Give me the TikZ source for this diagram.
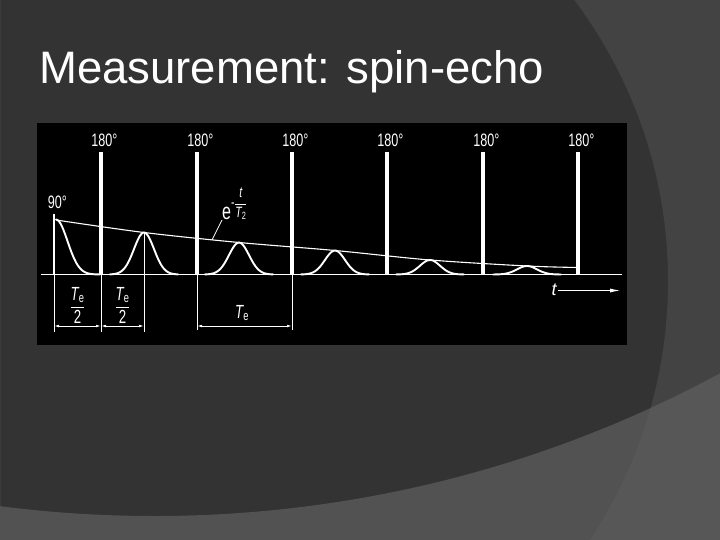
\documentclass[tikz,border=0pt]{standalone}
\usepackage{fontspec}
\setmainfont{Liberation Sans}
\usepackage{amsmath}
\usetikzlibrary{
    arrows.meta,% arrow tips
    positioning% wg. " of "
}

\definecolor{slidebg}{HTML}{333333}
\definecolor{slidearc}{HTML}{434343}
\definecolor{slidelow}{HTML}{525252}
\definecolor{slidelowarc}{HTML}{575757}

\newcommand{\narrow}[1]{\scalebox{0.7}[1]{#1}}

\tikzset{
    pulseline/.style={white, line width=3.4pt},
    thinpulse/.style={white, line width=2.8pt},
    echoline/.style={white, line width=1.9pt, line join=round, line cap=round},
    envline/.style={white, line width=1.1pt},
    dimline/.style={white, line width=0.8pt},
    dimarrow/.style={white, line width=0.8pt,
        {Latex[length=5pt,width=2.6pt]}-{Latex[length=5pt,width=2.6pt]}},
    lbl/.style={text=white, inner sep=0pt, font=\fontsize{18}{18}\selectfont},
    fraclbl/.style={text=white, inner sep=0pt, font=\fontsize{19}{19}\selectfont},
    slidetitle/.style={text=white, inner sep=0pt, font=\fontsize{45.5}{50}\selectfont}
}

\begin{document}
\begin{tikzpicture}[x=1pt,y=-1pt]
    \useasboundingbox (0,0) rectangle (720,540);
    \clip (0,0) rectangle (720,540);

    %%% slide background
    \fill[slidebg] (0,0) rectangle (720,540);
    \fill[slidearc, even odd rule] (0,0) rectangle (720,540)
        (200,281) circle[radius=468pt];
    \begin{scope}[even odd rule]
        \clip (0,0) rectangle (720,540)
            (154,-677) circle[radius=1193pt];
        \fill[slidelow] (0,0) rectangle (720,540);
        \fill[slidelowarc] (0,0) rectangle (720,540)
            (200,281) circle[radius=468pt];
    \end{scope}

    \node[slidetitle, anchor=base west] (title) at (39,84) {Measurement: spin-echo};

    %%% black panel
    \fill[black] (37,123) rectangle (627,345);

    %%% time axis
    \coordinate (ax0) at (41,274.5);
    \coordinate (ax1) at (622,274.5);
    \draw[echoline, line cap=butt] (ax0) -- (ax1);

    %%% 90 degree pulse
    \coordinate (p0) at (54,274.5);
    \coordinate (p0 top) at (54,214);
    \coordinate (p0 low) at (54,332);
    \draw[thinpulse] (p0) -- (p0 top);
    \draw[dimline] (p0) -- (p0 low);
    \node[lbl, anchor=base] (l0) at (57.5,209) {\narrow{90°}};

    %%% 180 degree pulses
    \foreach \px [count=\i] in {101,197,292,387,483,578} {
        \coordinate (p\i) at (\px,274.5);
        \coordinate (p\i top) at (\px,152);
        \draw[pulseline] (p\i) -- (p\i top);
        \node[lbl, anchor=base] (l\i) at (\px+3.5,147) {\narrow{180°}};
    }

    %%% free induction decay
    \draw[echoline] plot[domain=56:100, samples=30]
        (\x, {274.5-55*exp(-((\x-56)^2)/265)});

    %%% echoes
    \foreach \ex/\eh in {144/42, 239/32, 335/24, 430/14.5, 527/8.5} {
        \draw[echoline] plot[domain=\ex-34:\ex+34, samples=40]
            (\x, {274.5-\eh*exp(-((\x-\ex)^2)/200)});
    }

    %%% envelope
    \draw[envline] plot[smooth] coordinates {(56,220) (144,232.5) (239,242.5)
        (335,250.5) (430,260) (527,266) (578,267.5)};

    %%% envelope label
    \node[lbl, anchor=base west] (envlbl) at (222,220)
        {\narrow{\fontsize{23}{23}\selectfont e\raisebox{12.5pt}{\fontsize{15}{15}\selectfont -$\displaystyle\frac{\mathit{t}}{\mathit{T}_{\mathrm{2}}}$}}};
    \coordinate (lead) at (212,240);
    \draw[dimline] (lead) -- (envlbl.base west);

    %%% dimension lines
    \coordinate (p1 low) at (101,332);
    \coordinate (p2 low) at (197,330);
    \coordinate (p3 low) at (292,330);
    \coordinate (e1 top) at (144,232.5);
    \coordinate (e1 low) at (144,332);
    \draw[dimline] (p1) -- (p1 low);
    \draw[dimline] (p2) -- (p2 low);
    \draw[dimline] (p3) -- (p3 low);
    \draw[dimline] (e1 top) -- (e1 low);

    \coordinate (a0) at (54,326);
    \coordinate (a1) at (101,326);
    \coordinate (a2) at (144,326);
    \coordinate (a3) at (197,326);
    \coordinate (a4) at (292,326);
    \draw[dimarrow] (a0) -- (a1);
    \draw[dimarrow] (a1) -- (a2);
    \draw[dimarrow] (a3) -- (a4);

    \node[fraclbl] (half1) at (77.5,305.5) {\narrow{$\dfrac{\mathit{T}_{\mathrm{e}}}{\mathrm{2}}$}};
    \node[fraclbl] (half2) at (122.5,305.5) {\narrow{$\dfrac{\mathit{T}_{\mathrm{e}}}{\mathrm{2}}$}};
    \node[fraclbl] (full) at (242,313) {\narrow{$\mathit{T}_{\mathrm{e}}$}};

    %%% time arrow
    \node[lbl, anchor=base] (tlbl) at (554,295) {\itshape t};
    \coordinate (t0) at (558,290.5);
    \coordinate (t1) at (621,290.5);
    \draw[white, line width=1.2pt, -{Latex[length=11pt,width=4pt]}] (t0) -- (t1);
\end{tikzpicture}
\end{document}
